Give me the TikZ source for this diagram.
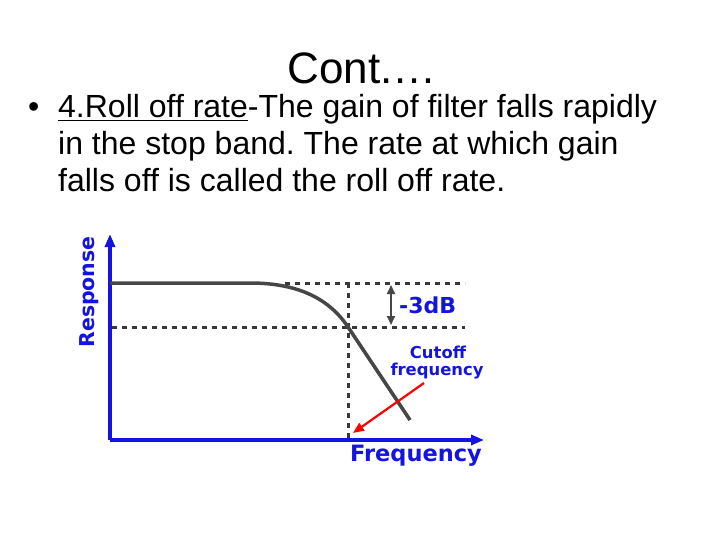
\documentclass[tikz,border=0pt]{standalone}
\usepackage{fontspec}
\setmainfont{Liberation Sans}
\newfontfamily\lblfont{DejaVu Sans}
\usetikzlibrary{arrows.meta}
\definecolor{axblue}{RGB}{20,20,225}
\definecolor{curvegray}{RGB}{70,70,70}
\frenchspacing
\begin{document}
\begin{tikzpicture}[x=1pt,y=-1pt,
  body/.style={anchor=base west,inner sep=0pt,font=\fontsize{32}{32}\selectfont},
  lbl/.style={inner sep=0pt,text=axblue,font=\lblfont\fontsize{#1}{#1}\selectfont\bfseries},
  axis/.style={axblue,line width=3.5pt,-{Triangle[length=13pt,width=10pt]}},
  guide/.style={curvegray!80!black,line width=3pt,dash pattern=on 5pt off 5pt}]
\useasboundingbox (0,0) rectangle (720,540);
% text
\node[inner sep=0pt,anchor=base,font=\fontsize{44}{44}\selectfont] (title) at (362,84) {Cont.…};
\node[body] (bul) at (28,118) {•};
\node[body] (l1) at (58,118) {\underline{4.Roll off rate}-The gain of filter falls rapidly};
\node[body] (l2) at (58,155) {in the stop band. The rate at which gain};
\node[body] (l3) at (58,192) {falls off is called the roll off rate.};
% axes
\coordinate (o) at (110,440);
\coordinate (ytip) at (110,234);
\coordinate (xtip) at (484,440);
\draw[axis] (o) -- (ytip);
\draw[axis] (o) -- (xtip);
% dashed guides
\coordinate (t1) at (285,283); \coordinate (t2) at (465,283);
\coordinate (b1) at (112,327); \coordinate (b2) at (465,327);
\coordinate (v1) at (348,283); \coordinate (v2) at (348,438);
\draw[guide] (t1) -- (t2);
\draw[guide] (b1) -- (b2);
\draw[guide] (v1) -- (v2);
% curve
\draw[curvegray,line width=3.5pt] (110,283) -- (250,283) .. controls (300,283) and (330,300) .. (348,327) -- (410,420);
% -3dB
\coordinate (d1) at (391,285); \coordinate (d2) at (391,325);
\draw[curvegray,line width=2pt,{Triangle[length=9pt,width=8pt]}-{Triangle[length=9pt,width=8pt]}] (d1) -- (d2);
\node[lbl=22,anchor=west] (db) at (399,305) {-3dB};
% cutoff
\node[lbl=16.4] (cut1) at (438,352) {Cutoff};
\node[lbl=16.4] (cut2) at (437,371) {frequency};
\coordinate (ra) at (424,383); \coordinate (rb) at (353,433);
\draw[red,line width=2.2pt,-{Triangle[length=11pt,width=9pt]}] (ra) -- (rb);
% axis labels
\node[lbl=20.5,rotate=90] (resp) at (89,292) {Response};
\node[lbl=22.5] (freq) at (416,456) {Frequency};
\end{tikzpicture}
\end{document}
